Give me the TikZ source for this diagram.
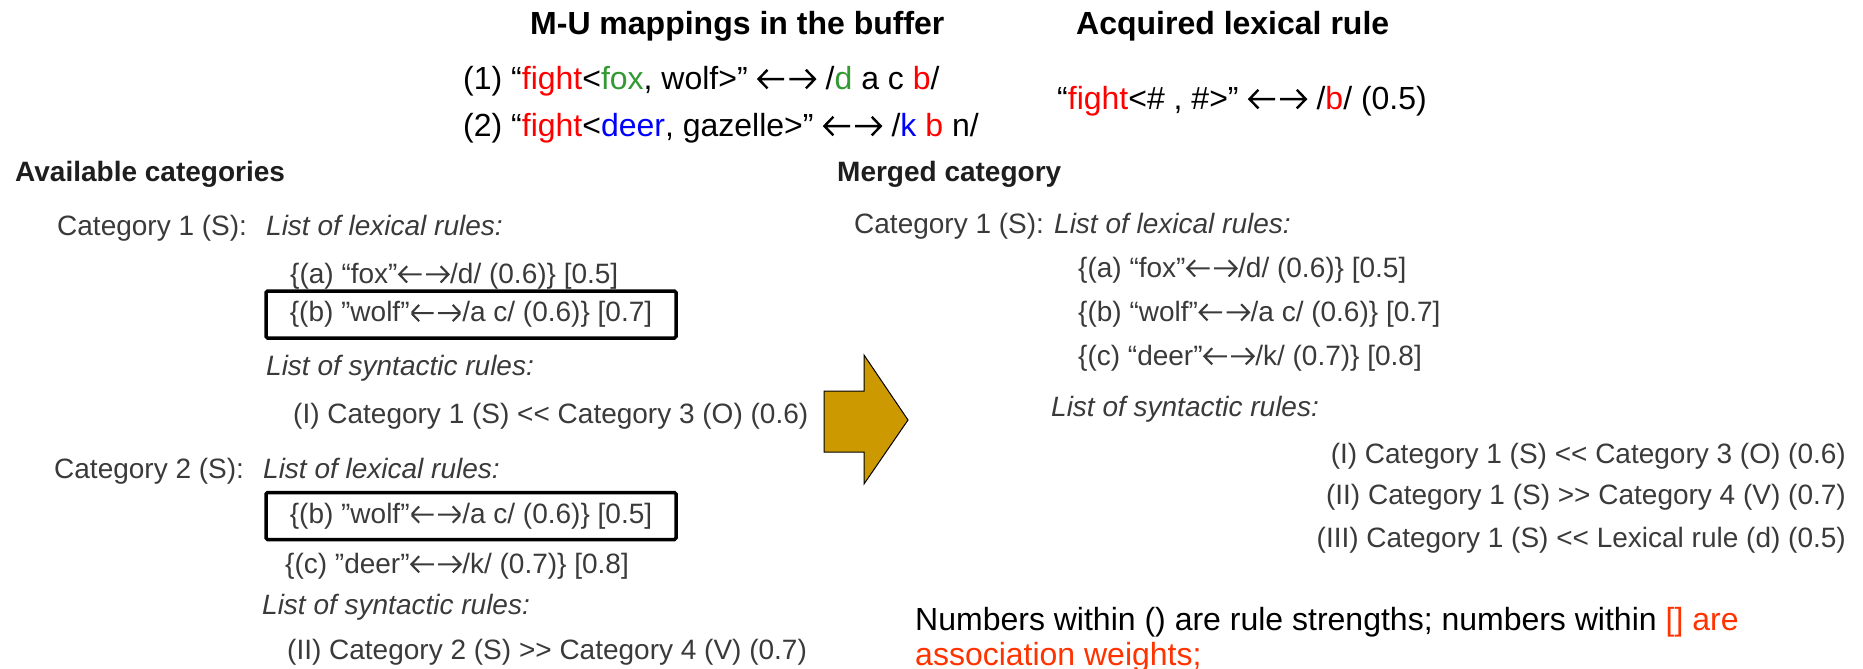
\documentclass[tikz,border=0pt]{standalone}
\usepackage{fontspec}
\setmainfont{Liberation Sans}
\usetikzlibrary{positioning}
\definecolor{mured}{HTML}{FF0000}
\definecolor{mugreen}{HTML}{339933}
\definecolor{mublue}{HTML}{0000FF}
\definecolor{noteorange}{HTML}{FF3300}
\definecolor{headgray}{HTML}{1E1E1E}
\definecolor{rulegray}{HTML}{3A3A3A}
\definecolor{arrowgold}{HTML}{CC9900}
\newcommand{\bigtxt}{\fontsize{32}{38}\selectfont}
\newcommand{\paneltxt}{\fontsize{28}{34}\selectfont}
% the two-way arrow of the mappings
\newcommand{\lrarr}{\tikz[baseline=0pt,x=1em,y=1em,line width=0.075em,
    line join=miter]{\useasboundingbox (0,0) rectangle (1.88,0.62);
    \draw (0.86,0.31) -- (0.06,0.31) (0.34,0.6) -- (0.06,0.31) -- (0.34,0.02);
    \draw (1.02,0.31) -- (1.82,0.31) (1.54,0.6) -- (1.82,0.31) -- (1.54,0.02);}}
\tikzset{
  toptitle/.style={anchor=base west,inner sep=0pt,font=\bfseries\bigtxt},
  topline/.style={anchor=base west,inner sep=0pt,font=\bigtxt},
  panelhead/.style={anchor=base west,inner sep=0pt,text=headgray,
                    font=\bfseries\paneltxt},
  ruletext/.style={anchor=base west,inner sep=0pt,text=rulegray,font=\paneltxt},
  listtext/.style={ruletext,font=\itshape\paneltxt},
  hlbox/.style={draw=black,line width=3.5pt,rounded corners=1.5pt,
                minimum width=410pt,minimum height=47pt,inner sep=0pt,
                text=rulegray,font=\paneltxt},
  notetext/.style={anchor=base west,inner sep=0pt,font=\bigtxt},
  bigarrow/.style={draw=black,line width=1pt,fill=arrowgold,line join=miter}
}

\begin{document}
\begin{tikzpicture}[x=1pt,y=-1pt]
    \useasboundingbox (0,0) rectangle (1863,669);

    % buffer and acquired rule
    \node[toptitle] (bufhead) at (530,35) {M-U mappings in the buffer};
    \node[topline] (map1) at (463,89)
      {(1) “\textcolor{mured}{fight}<\textcolor{mugreen}{fox}, wolf>” \lrarr{}
       /\textcolor{mugreen}{d} a c \textcolor{mured}{b}/};
    \node[topline] (map2) at (463,136)
      {(2) “\textcolor{mured}{fight}<\textcolor{mublue}{deer}, gazelle>” \lrarr{}
       /\textcolor{mublue}{k} \textcolor{mured}{b} n/};
    \node[toptitle] (acqhead) at (1076,35) {Acquired lexical rule};
    \node[topline] (acqrule) at (1057,109)
      {“\textcolor{mured}{fight}<\# , \#>” \lrarr{} /\textcolor{mured}{b}/ (0.5)};

    % available categories
    \node[panelhead] (availhead) at (15,181) {Available categories};
    \node[ruletext] (cat1) at (57,235) {Category 1 (S):};
    \node[listtext] (cat1lex) at (266,235) {List of lexical rules:};
    \node[ruletext] (lexA) at (290,283) {\{(a) “fox"\lrarr/d/ (0.6)\} [0.5]};
    \node[hlbox] (lexB1) at (471,314.5) {\{(b) "wolf"\lrarr/a c/ (0.6)\} [0.7]};
    \node[listtext] (cat1syn) at (266,375) {List of syntactic rules:};
    \node[ruletext] (synI) at (293,423)
      {(I) Category 1 (S) <{}< Category 3 (O) (0.6)};
    \node[ruletext] (cat2) at (54,478) {Category 2 (S):};
    \node[listtext] (cat2lex) at (263,478) {List of lexical rules:};
    \node[hlbox] (lexB2) at (471,516) {\{(b) "wolf"\lrarr/a c/ (0.6)\} [0.5]};
    \node[ruletext] (lexC) at (285,573) {\{(c) "deer"\lrarr/k/ (0.7)\} [0.8]};
    \node[listtext] (cat2syn) at (262,614) {List of syntactic rules:};
    \node[ruletext] (synII) at (287,659)
      {(II) Category 2 (S) >{}> Category 4 (V) (0.7)};

    \draw[bigarrow] (824,391) -- (864,391) -- (864,355) -- (908,420)
      -- (864,484) -- (864,452) -- (824,452) -- cycle;

    % merged category
    \node[panelhead] (mergedhead) at (837,181) {Merged category};
    \node[ruletext] (mcat) at (854,233) {Category 1 (S):};
    \node[listtext] (mcatlex) at (1054,233) {List of lexical rules:};
    \node[ruletext] (mlexA) at (1078,277) {\{(a) “fox"\lrarr/d/ (0.6)\} [0.5]};
    \node[ruletext] (mlexB) at (1078,321) {\{(b) “wolf"\lrarr/a c/ (0.6)\} [0.7]};
    \node[ruletext] (mlexC) at (1078,365) {\{(c) “deer"\lrarr/k/ (0.7)\} [0.8]};
    \node[listtext] (mcatsyn) at (1051,416) {List of syntactic rules:};
    \node[ruletext,anchor=base east] (msynI) at (1846,463)
      {(I) Category 1 (S) <{}< Category 3 (O) (0.6)};
    \node[ruletext,anchor=base east] (msynII) at (1846,504)
      {(II) Category 1 (S) >{}> Category 4 (V) (0.7)};
    \node[ruletext,anchor=base east] (msynIII) at (1846,547)
      {(III) Category 1 (S) <{}< Lexical rule (d) (0.5)};

    \node[notetext] (note1) at (915,630)
      {Numbers within () are rule strengths; numbers within
       \textcolor{noteorange}{[] are}};
    \node[notetext,text=noteorange] (note2) at (915,665) {association weights;};
  \end{tikzpicture}
\end{document}
